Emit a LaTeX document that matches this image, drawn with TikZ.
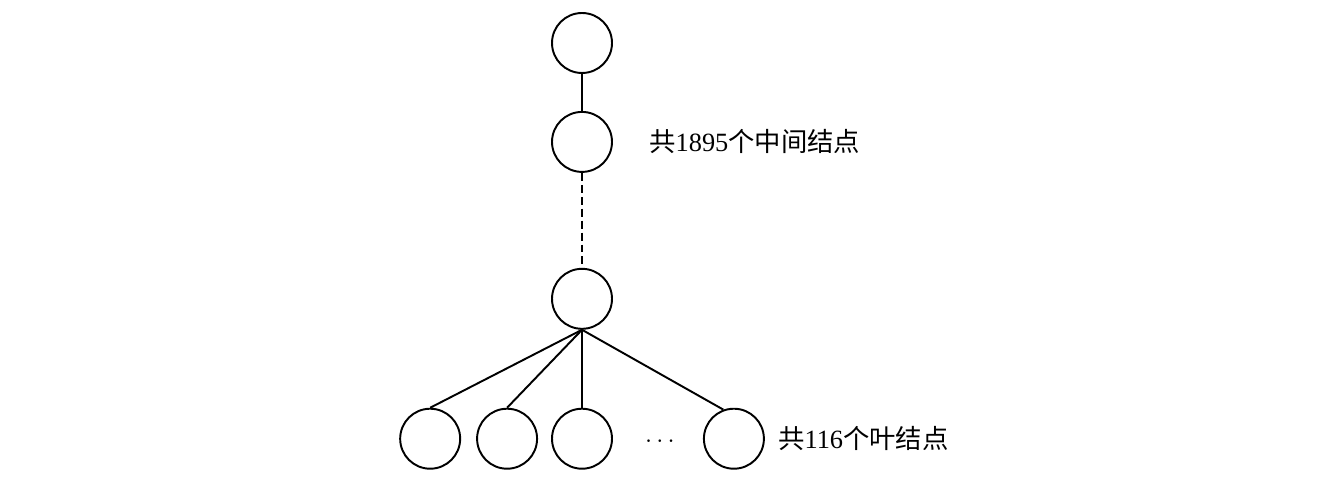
\documentclass[tikz,border=0pt]{standalone}
\usepackage{fontspec}
\setmainfont{Liberation Serif}
\newfontfamily\cjk{Noto Sans CJK SC}
\usepackage{tikz}
\usetikzlibrary{positioning}
\tikzset{
	tnode/.style={
		draw,
		circle,
		line width=1.1pt,
		minimum size=1.2cm,
		inner sep=0pt,
	},
	note/.style={
		inner sep=0pt,
		anchor=west,
		font={\fontsize{15pt}{18pt}\selectfont},
	},
	link/.style={
		line width=1.1pt,
	},
}

\begin{document}
\begin{tikzpicture}[x=0.02cm, y=-0.02cm]
\useasboundingbox[fill=white] (0,0) rectangle (1326,482);

\node(root)[tnode] at (582,43) {};
\node(mid)[tnode, below=0.74cm of root] {};
\node(low)[tnode, below=1.90cm of mid] {};

% leaves
\node(c3)[tnode, below=1.56cm of low] {};
\node(c2)[tnode, left=0.26cm of c3] {};
\node(c1)[tnode, left=0.3cm of c2] {};
\node(c4)[tnode, right=1.80cm of c3] {};
\node(dots) at (660,442) {\fontsize{15pt}{18pt}\selectfont$\cdots$};

\node(midtxt)[note, right=0.72cm of mid] {{\cjk 共}1895{\cjk 个中间结点}};
\node(leaftxt)[note, right=0.26cm of c4] {{\cjk 共}116{\cjk 个叶结点}};

\draw[link] (root) -- (mid);
\draw[link, dash pattern=on 4.5pt off 2.3pt] (mid) -- (low);
\draw[link] (low.south) -- (c1.north);
\draw[link] (low.south) -- (c2.north);
\draw[link] (low.south) -- (c3.north);
\draw[link] (low.south) -- (c4.110);

\end{tikzpicture}
\end{document}
